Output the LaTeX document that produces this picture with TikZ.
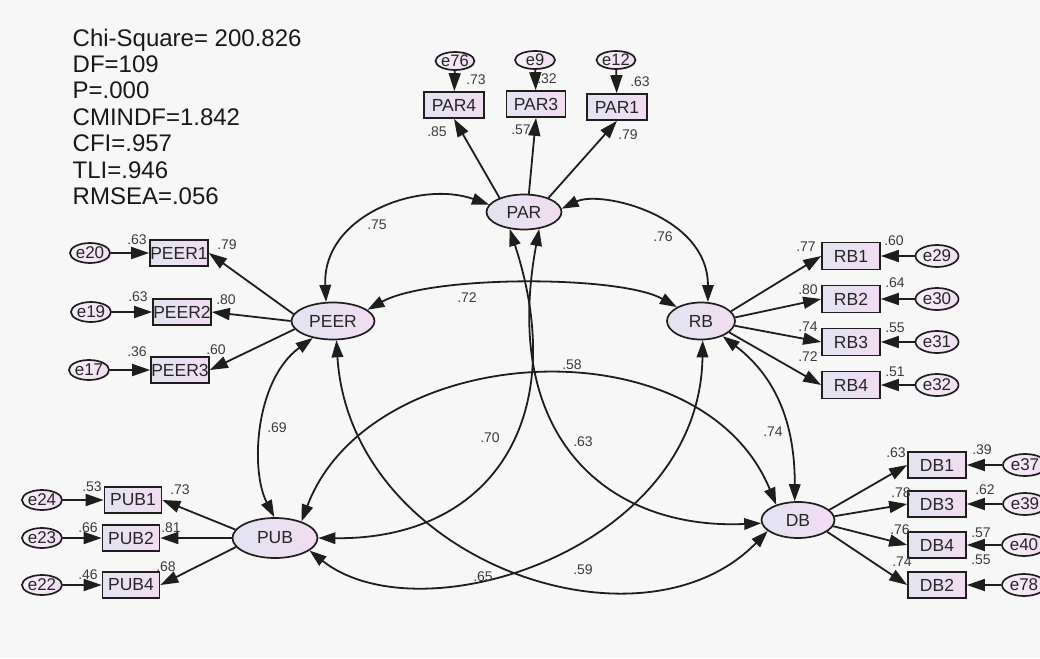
\documentclass[tikz,border=0pt]{standalone}
\usepackage{fontspec}
\setmainfont{Liberation Sans}
\usetikzlibrary{shapes.geometric,arrows.meta}
\definecolor{bg}{RGB}{247,247,247}
\definecolor{fillL}{RGB}{226,228,242}
\definecolor{fillR}{RGB}{242,220,242}
\definecolor{errL}{RGB}{246,240,248}
\definecolor{edgec}{RGB}{30,30,30}
\definecolor{numc}{RGB}{60,60,60}
\begin{document}
\begin{tikzpicture}[x=1pt,y=-1pt,
  latent/.style={ellipse, draw=edgec, line width=1.7pt, left color=fillL, right color=fillR,
    inner sep=0pt, text=black!85, font=\fontsize{17.5}{18}\selectfont},
  obs/.style={rectangle, draw=edgec, line width=1.7pt, left color=fillL, right color=fillR,
    inner sep=0pt, minimum width=58pt, minimum height=26pt, text=black!85,
    font=\fontsize{17.5}{18}\selectfont},
  err/.style={ellipse, draw=edgec, line width=1.7pt, left color=errL, right color=fillR,
    inner sep=0pt, minimum width=38pt, minimum height=20pt, text=black!85,
    font=\fontsize{17}{18}\selectfont},
  errtop/.style={err, minimum height=18pt, font=\fontsize{16.5}{17}\selectfont},
  num/.style={font=\fontsize{14}{15}\selectfont, text=numc, inner sep=0pt},
  arr/.style={-{Triangle[length=18pt,width=12pt]}, line width=1.8pt, draw=edgec},
  dbl/.style={{Triangle[length=17pt,width=11.5pt]}-{Triangle[length=17pt,width=11.5pt]},
    line width=1.8pt, draw=edgec},
]
\useasboundingbox (0,0) rectangle (1040,658);
\fill[bg] (0,0) rectangle (1040,658);
\clip (0,0) rectangle (1040,658);

% fit statistics
\node[anchor=north west, align=left, inner sep=0pt, text=black!90,
  font=\fontsize{24}{26.4}\selectfont] (stats) at (72.5,28.5)
  {Chi-Square= 200.826\\DF=109\\P=.000\\CMINDF=1.842\\CFI=.957\\TLI=.946\\RMSEA=.056};

% latent variables
\node[latent, minimum width=75pt, minimum height=35pt] (PAR) at (524,212) {PAR};
\node[latent, minimum width=83pt, minimum height=37pt] (PEER) at (333,321) {PEER};
\node[latent, minimum width=68pt, minimum height=37pt] (RB) at (701,321) {RB};
\node[latent, minimum width=85pt, minimum height=40pt] (PUB) at (275,538) {PUB};
\node[latent, minimum width=73pt, minimum height=36pt] (DB) at (798,520) {DB};

% PAR indicators
\node[obs, minimum width=60pt] (PAR4) at (454,105) {PAR4};
\node[obs, minimum width=59pt] (PAR3) at (536,104) {PAR3};
\node[obs, minimum width=60pt] (PAR1) at (617,107) {PAR1};
\node[errtop, minimum width=34pt] (e76) at (455,61) {e76};
\node[errtop, minimum width=40pt] (e9) at (535,60) {e9};
\node[errtop, minimum width=38pt] (e12) at (616,60) {e12};

% PEER indicators
\node[obs] (PEER1) at (179,253) {PEER1};
\node[obs] (PEER2) at (182,312) {PEER2};
\node[obs] (PEER3) at (180,370) {PEER3};
\node[err] (e20) at (90,253) {e20};
\node[err] (e19) at (91,312) {e19};
\node[err] (e17) at (89,370) {e17};

% RB indicators
\node[obs, minimum height=27pt] (RB1) at (851,256) {RB1};
\node[obs, minimum height=27pt] (RB2) at (851,299) {RB2};
\node[obs, minimum height=27pt] (RB3) at (851,342) {RB3};
\node[obs, minimum height=27pt] (RB4) at (851,385) {RB4};
\node[err, minimum width=43pt, minimum height=22pt] (e29) at (937,256) {e29};
\node[err, minimum width=43pt, minimum height=22pt] (e30) at (937,299) {e30};
\node[err, minimum width=43pt, minimum height=22pt] (e31) at (937,342) {e31};
\node[err, minimum width=43pt, minimum height=22pt] (e32) at (937,385) {e32};

% PUB indicators
\node[obs, minimum width=57pt] (PUB1) at (133,500) {PUB1};
\node[obs, minimum width=57pt] (PUB2) at (131,538) {PUB2};
\node[obs, minimum width=57pt] (PUB4) at (131,585) {PUB4};
\node[err, minimum width=37pt] (e24) at (42,500) {e24};
\node[err, minimum width=37pt] (e23) at (42,538) {e23};
\node[err, minimum width=37pt] (e22) at (42,585) {e22};

% DB indicators
\node[obs] (DB1) at (937,465) {DB1};
\node[obs] (DB3) at (937,504) {DB3};
\node[obs] (DB4) at (937,545) {DB4};
\node[obs] (DB2) at (937,585) {DB2};
\node[err, minimum width=44pt, minimum height=22pt] (e37) at (1025,465) {e37};
\node[err, minimum width=44pt, minimum height=22pt] (e39) at (1025,504) {e39};
\node[err, minimum width=44pt, minimum height=22pt] (e40) at (1024,545) {e40};
\node[err, minimum width=44pt, minimum height=22pt] (e78) at (1024,585) {e78};

% loadings
\draw[arr] (PAR.150) -- (PAR4.south);
\draw[arr] (PAR.75) -- (PAR3.south);
\draw[arr] (PAR.30) -- (PAR1.south);
\draw[arr] (e76) -- (PAR4);
\draw[arr] (e9) -- (PAR3);
\draw[arr] (e12) -- (PAR1);

\draw[arr] (PEER.170) -- (PEER1.east);
\draw[arr] (PEER.180) -- (PEER2.east);
\draw[arr] (PEER.192) -- (PEER3.east);
\draw[arr] (e20) -- (PEER1);
\draw[arr] (e19) -- (PEER2);
\draw[arr] (e17) -- (PEER3);

\draw[arr] (RB.18) -- (RB1.west);
\draw[arr] (RB.6) -- (RB2.west);
\draw[arr] (RB.-8) -- (RB3.west);
\draw[arr] (RB.-22) -- (RB4.west);
\draw[arr] (e29) -- (RB1);
\draw[arr] (e30) -- (RB2);
\draw[arr] (e31) -- (RB3);
\draw[arr] (e32) -- (RB4);

\draw[arr] (PUB.168) -- (PUB1.east);
\draw[arr] (PUB.180) -- (PUB2.east);
\draw[arr] (PUB.193) -- (PUB4.east);
\draw[arr] (e24) -- (PUB1);
\draw[arr] (e23) -- (PUB2);
\draw[arr] (e22) -- (PUB4);

\draw[arr] (DB.18) -- (DB1.west);
\draw[arr] (DB.6) -- (DB3.west);
\draw[arr] (DB.-10) -- (DB4.west);
\draw[arr] (DB.-22) -- (DB2.west);
\draw[arr] (e37) -- (DB1);
\draw[arr] (e39) -- (DB3);
\draw[arr] (e40) -- (DB4);
\draw[arr] (e78) -- (DB2);

% correlations
\draw[dbl] (PEER.110) .. controls (322,215) and (420,180) .. (PAR.168);
\draw[dbl] (PAR.5) .. controls (600,190) and (708,215) .. (RB.70);
\draw[dbl] (PEER.18) .. controls (430,275) and (620,275) .. (RB.150);
\draw[dbl] (PEER.220) .. controls (255,380) and (250,470) .. (PUB.92);
\draw[dbl] (RB.-35) .. controls (780,380) and (795,430) .. (DB.100);
\draw[dbl] (PAR.230) .. controls (572,420) and (490,540) .. (PUB.0);
\draw[dbl] (PAR.312) .. controls (500,440) and (610,530) .. (DB.185);
\draw[dbl] (PUB.32) .. controls (370,340) and (700,320) .. (DB.145);
\draw[dbl] (PEER.280) .. controls (350,560) and (640,662) .. (DB.200);
\draw[dbl] (RB.275) .. controls (700,550) and (420,638) .. (PUB.-20);

% numbers: PAR block
\node[num] (n1) at (476,80) {.73};
\node[num] (n2) at (547,79) {.32};
\node[num] (n3) at (640,82) {.63};
\node[num] (n4) at (437,132) {.85};
\node[num] (n5) at (521,130) {.57};
\node[num] (n6) at (628,135) {.79};
% PEER block
\node[num] (n7) at (137,240) {.63};
\node[num] (n8) at (227,245) {.79};
\node[num] (n9) at (138,297) {.63};
\node[num] (n10) at (226,300) {.80};
\node[num] (n11) at (137,352) {.36};
\node[num] (n12) at (216,350) {.60};
% RB block
\node[num] (n13) at (806,247) {.77};
\node[num] (n14) at (894,241) {.60};
\node[num] (n15) at (808,290) {.80};
\node[num] (n16) at (895,283) {.64};
\node[num] (n17) at (808,327) {.74};
\node[num] (n18) at (895,328) {.55};
\node[num] (n19) at (808,357) {.72};
\node[num] (n20) at (895,372) {.51};
% PUB block
\node[num] (n21) at (92,487) {.53};
\node[num] (n22) at (180,490) {.73};
\node[num] (n23) at (88,528) {.66};
\node[num] (n24) at (171,528) {.81};
\node[num] (n25) at (88,575) {.46};
\node[num] (n26) at (166,567) {.68};
% DB block
\node[num] (n27) at (896,453) {.63};
\node[num] (n28) at (982,450) {.39};
\node[num] (n29) at (901,493) {.78};
\node[num] (n30) at (985,490) {.62};
\node[num] (n31) at (900,530) {.76};
\node[num] (n32) at (981,533) {.57};
\node[num] (n33) at (981,560) {.55};
\node[num] (n34) at (902,562) {.74};
% correlations
\node[num] (c1) at (377,225) {.75};
\node[num] (c2) at (663,237) {.76};
\node[num] (c3) at (467,298) {.72};
\node[num] (c4) at (572,365) {.58};
\node[num] (c5) at (277,428) {.69};
\node[num] (c6) at (490,438) {.70};
\node[num] (c7) at (583,442) {.63};
\node[num] (c8) at (773,432) {.74};
\node[num] (c9) at (483,577) {.65};
\node[num] (c10) at (583,570) {.59};
\end{tikzpicture}
\end{document}
